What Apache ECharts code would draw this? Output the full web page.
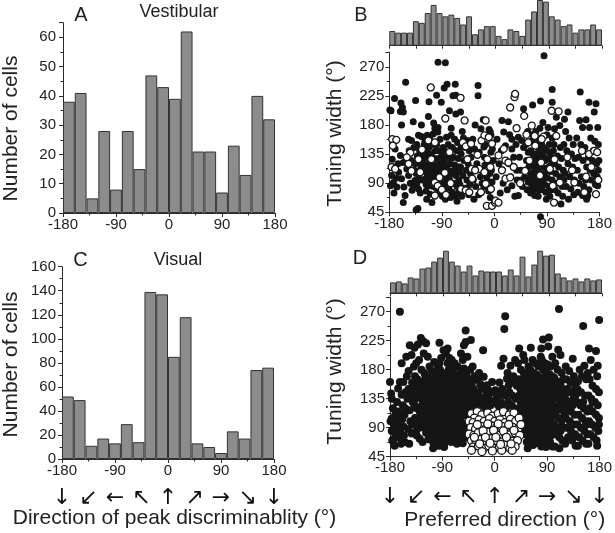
<!DOCTYPE html>
<html>
<head>
<meta charset="utf-8">
<script src="https://cdn.jsdelivr.net/npm/echarts@6.0.0/dist/echarts.min.js"></script>
<style>
html,body{margin:0;padding:0;background:#fff;}
#chart{width:615px;height:533px;}
</style>
</head>
<body>
<div id="chart"></div>
<script>
// ---------- data ----------
const binsA = [-170,-150,-130,-110,-90,-70,-50,-30,-10,10,30,50,70,90,110,130,150,170];
const vestibularCounts = [38,41,5,28,8,28,15,47,43,39,62,21,21,7,23,13,40,32];
const visualCounts = [52,49,11,17,13,29,14,139,137,85,118,13,10,5,23,17,74,76];

const bins36 = [-175,-165,-155,-145,-135,-125,-115,-105,-95,-85,-75,-65,-55,-45,-35,-25,-15,-5,5,15,25,35,45,55,65,75,85,95,105,115,125,135,145,155,165,175];
const prefHistB = [9,8,8,8,15,14,20,25,20,18,19,17,13,18,7,10,12,12,6,4,10,9,6,16,21,28,27,18,16,12,13,8,10,10,13,10];
const prefHistD = [11,12,10,16,15,25,26,32,36,43,32,28,22,28,18,23,22,22,22,18,24,18,37,17,29,43,38,39,20,16,13,15,12,15,13,14];

const arrowTicks = [-180,-135,-90,-45,0,45,90,135,180];
const arrowLabels = ['\u2193','\u2199','\u2190','\u2196','\u2191','\u2197','\u2192','\u2198','\u2193'];

// Panel B: preferred direction vs tuning width (filled / open)
const vestFilled = [
[-177,202],[-171,221],[-178,86],[-176,102],[-173,91],[-175,127],[-173,115],[-170,143],[-167,84],[-164,107],[-161,201],[-160,214],[-172,75],[-165,120],[-168,98],[-179,203],
[-157.5,207],[-156,200],[-159,180],[-152,246],[-156,122],[-161,133],[-159,97],[-153,71],[-156,60],[-147,102],[-147,158],[-142,156],[-142,125],[-144,90],[-150,112],[-155,84],[-146,140],[-141,79],
[-139,185],[-135,218],[-136,120],[-136,94],[-139,86],[-133,89],[-130,81],[-131,51],[-134,49],[-130,164],[-125,162],[-125,180],[-128,140],[-133,150],[-122,135],[-126,118],[-121,108],[-134,105],[-129,97],[-124,95],[-138,145],[-127,75],[-120,150],[-132,132],[-123,125],[-137,110],[-128,110],
[-113,193],[-112,216],[-115,164],[-105,166],[-102,175],[-119,155],[-117,140],[-114,130],[-111,122],[-118,118],[-108,115],[-116,108],[-106,104],[-112,100],[-119,96],[-103,97],[-109,92],[-114,86],[-105,85],[-117,78],[-110,73],[-101,110],[-104,120],[-108,135],[-101,140],[-119,130],[-112,145],[-106,150],[-103,128],[-115,100],[-110,108],[-107,126],[-102,102],[-117,88],[-100,90],[-111,160],[-104,183],[-116,65],[-107,60],[-119,112],
[-96.5,277],[-84,276],[-86,237],[-81,243],[-99,226],[-91,215],[-96.5,176],[-97,169],[-82,161],[-99,150],[-95,140],[-90,132],[-86,125],[-93,120],[-98,115],[-88,112],[-83,118],[-95,105],[-90,100],[-85,95],[-97,95],[-92,88],[-87,84],[-81,90],[-99,82],[-94,75],[-89,70],[-84,65],[-91,110],[-96,128],[-88,145],[-80,130],[-93,158],[-85,105],[-98,102],[-82,102],[-92,125],[-86,140],
[-67,243],[-71,225],[-66,226],[-77,202],[-66,197],[-74,175],[-74,164],[-68,158],[-63,153],[-79,150],[-72,145],[-65,140],[-78,135],[-70,130],[-62,128],[-76,120],[-68,118],[-61,115],[-79,110],[-73,105],[-66,102],[-61,95],[-77,96],[-70,90],[-64,85],[-78,82],[-72,76],[-67,70],[-75,68],[-62,75],[-69,110],[-74,128],[-60,108],[-64,62],
[-58,200],[-46,156],[-37,158],[-55,170],[-50,145],[-57,135],[-43,140],[-52,125],[-45,120],[-58,115],[-41,105],[-54,102],[-47,95],[-59,88],[-50,82],[-44,72],[-56,70],[-42,88],[-48,110],[-53,160],[-40,130],[-57,145],
[-28,241],[-28,225],[-33,180],[-23,174],[-34,143],[-26,138],[-30,120],[-24,100],[-36,95],[-32,85],[-27,72],[-22,110],[-35,65],[-21,90],
[-19,188],[-9,173],[-6,164],[-18,146],[-6,138],[-3.5,143],[-15,150],[-11,120],[-16,118],[-8,105],[-13,98],[-4,92],[-18,85],[-10,78],[-2,125],[-7,68],[-17,130],[-5,110],
[13,187],[4.5,158],[-7,169],[16,169],[12,140],[8,120],[3,100],[15,90],[10,75],
[30,158],[19,148],[30,143],[30,86],[35,70],[25,120],[38,110],[28,100],[22,80],[37,150],[33,130],[26,165],[39,95],[24,185],
[41,161],[47,156],[50,205],[50,145],[58,138],[41,71],[55,125],[45,110],[52,100],[58,92],[48,85],[56,80],[43,130],[59,115],[54,150],[46,95],[57,170],
[65.5,211],[79,217],[78,175],[64,86],[69,71],[61,120],[63,105],[66,135],[68,95],[70,115],[72,128],[74,145],[76,100],[78,88],[62,140],[64,155],[67,80],[71,92],[73,110],[75,122],[77,135],[79,105],[72,150],[74,160],[66,100],[70,135],[78,118],[60,98],[68,125],[76,80],[62,75],[79,145],[71,170],[65,165],[77,95],[73,85],[69,108],[75,70],[79,38],
[85,287],[99,235],[99,215],[83,184],[92,176],[81,150],[88,140],[95,138],[85,130],[92,128],[98,120],[82,115],[89,112],[96,108],[84,100],[91,98],[99,95],[86,88],[93,85],[81,80],[88,76],[97,80],[80,135],[87,125],[94,150],[99,160],[90,165],[84,145],[93,115],[86,105],[98,130],[82,95],[95,70],[89,65],[90,140],[81,125],
[103,174],[112,179],[106,192],[120,189],[114,58],[103,60],[101,140],[108,132],[115,128],[103,120],[110,115],[118,110],[105,105],[112,100],[119,95],[107,90],[116,85],[102,150],[113,145],[119,150],[109,75],[117,70],[104,80],
[126,200],[131,81],[122,170],[128,160],[135,150],[124,140],[132,135],[138,128],[126,120],[134,115],[121,105],[129,100],[137,95],[123,85],[136,72],[127,65],
[147,231],[146,187],[151,176],[157,188],[143,76],[151,71],[141,160],[148,150],[155,145],[144,130],[152,125],[158,115],[142,110],[149,100],[156,95],[145,90],[153,85],[159,70],[158,65],
[162,215],[174,213],[171,200],[163,176],[177,176],[160,71],[177,86],[165,160],[172,155],[178,150],[161,130],[168,125],[175,120],[164,110],[170,105],[176,100],[166,95],[173,88],[162,80],[178,110],[169,140],[179,125]
];
const vestOpen = [
[-175,158],[-168,157],[-174,148],[-176,115],[-170,112],
[-144,137],[-150,130],[-147,120],[-142,109],
[-130,127],[-127,107],[-124,142],
[-109,238],[-113,156],[-108,127],[-102,91],[-102,71],[-102,153],
[-84,190],[-94,99],[-85,106],[-97,86],[-90,80],[-83,72],
[-77,138],[-58,222],[-57,81],[-75,90],
[-51,187],[-54,153],[-49,147],[-40,151],[-46,127],[-39,112],[-38,97],[-49,79],[-43,76],
[-22,156],[-29,134],[-26,112],[-23,76],[-33,110],
[-15,187],[-17,164],[-12,127],[-15,89],[-13,55],[-6,81],[-17,107],[-7,115],[-9.6,161],[-4,151],[-4,55],[1,60],
[7,133],[16,143],[19,97],[2,63],[7,60],[19,125],[13,110],
[34.4,223],[35.5,228],[27,207],[38,175],[24,122],[27,99],[33,115],
[51,194],[55,165],[58,153],[52.5,109],[44,90],
[64,179],[69,163],[78,102],[60,125],[70,148],
[84,162],[80,122],[81,158],[98,202],[100,86],[95,112],
[103,127],[110,201],[112,91],[102,60],[106,163],
[137,91],[125,130],[133,110],
[154,76],[150,140],[157,100],
[162,135],[171,140],[176,138],[174,73],[178,95],[166,115]
];

// Panel D
const visFilled = [
[-180,161],[-178,143],[-179,100],[-177,85],[-176,70],[-175,120],[-173,95],[-172,62],[-171,110],[-170,80],[-168,130],[-166,151],[-165,92],[-164,75],[-163,270],[-163,161],[-162,105],[-161,65],[-160,141],[-168,100],[-174,88],[-166,115],[-162,82],[-177,104],[-177,135],[-173,73],
[-160,190],[-157,161],[-155,68],[-157,92],[-155,110],[-152,200],[-146,218],[-143,203],[-146,117],[-143,81],[-158,125],[-150,135],[-148,150],[-145,100],[-153,145],[-141,130],[-149,88],[-156,78],[-142,160],[-151,170],[-144,140],[-147,65],[-159,103],[-141,95],[-154,120],[-148,178],
[-138,214],[-132,219],[-127,229],[-123,224],[-122,205],[-139,185],[-135,190],[-130,195],[-126,180],[-121,175],[-137,170],[-133,165],[-128,160],[-124,155],[-139,150],[-135,145],[-130,140],[-125,135],[-121,130],[-138,125],[-134,120],[-129,115],[-123,110],[-137,105],[-132,100],[-127,95],[-122,90],[-139,82],[-134,78],[-129,73],[-124,68],[-120,120],[-136,135],[-131,155],[-126,148],[-122,162],[-128,105],[-133,88],[-120,100],[-125,125],
[-118,221],[-115,200],[-104,192],[-112,185],[-108,178],[-101,175],[-119,170],[-114,168],[-110,162],[-105,160],[-102,155],[-117,155],[-113,150],[-108,148],[-103,145],[-119,142],[-115,138],[-110,135],[-106,132],[-101,130],[-118,128],[-113,125],[-109,122],[-104,120],[-100,118],[-117,115],[-112,112],[-107,110],[-102,108],[-119,105],[-115,102],[-110,100],[-105,98],[-101,95],[-116,92],[-111,90],[-106,88],[-102,85],[-118,82],[-113,80],[-108,78],[-104,75],[-106,68],[-106,58],[-114,72],[-109,140],[-103,168],[-116,130],[-111,145],[-107,115],[-100,105],[-117,162],[-112,95],[-105,140],[-119,95],[-101,140],[-108,125],[-114,108],
[-98,187],[-81,213],[-84,205],[-95,222],[-88,210],[-92,198],[-99,178],[-94,180],[-89,175],[-85,170],[-81,190],[-97,168],[-92,165],[-87,160],[-83,158],[-99,160],[-95,155],[-90,152],[-86,150],[-82,147],[-98,145],[-93,142],[-89,140],[-84,138],[-80,135],[-97,135],[-92,132],[-87,130],[-83,128],[-99,125],[-95,122],[-90,120],[-86,118],[-81,116],[-97,112],[-93,110],[-88,108],[-84,105],[-80,102],[-99,100],[-95,98],[-91,96],[-86,94],[-82,92],[-97,88],[-92,85],[-88,82],[-84,80],[-99,75],[-94,72],[-89,70],[-85,68],[-82,75],[-96,62],[-87,60],[-91,105],[-85,125],[-93,148],[-88,145],[-96,140],[-82,140],[-90,130],[-94,115],[-83,112],[-98,108],[-89,90],[-85,100],[-92,158],[-87,173],[-95,190],[-80,165],[-97,120],[-84,155],[-91,140],[-86,135],[-81,125],[-93,125],[-88,118],
[-78,198],[-74,195],[-69,190],[-64,185],[-79,180],[-75,176],[-70,172],[-66,168],[-61,165],[-78,162],[-73,158],[-68,155],[-64,150],[-60,148],[-77,147],[-72,143],[-67,140],[-63,137],[-79,135],[-74,132],[-70,128],[-65,126],[-61,123],[-77,120],[-73,117],[-68,115],[-64,112],[-60,110],[-79,108],[-75,105],[-70,102],[-66,100],[-62,97],[-78,95],[-73,92],[-69,88],[-65,86],[-61,84],[-77,82],[-72,79],[-70,71],[-67,75],[-63,72],[-75,68],[-65,65],[-78,125],[-71,150],[-62,158],[-76,112],[-68,130],[-73,100],[-66,145],[-60,100],[-79,155],[-74,172],[-67,160],[-71,182],[-63,92],[-76,140],[-69,120],
[-53,218],[-50,223],[-41,226],[-50,241],[-53,182],[-58,205],[-55,195],[-47,200],[-42,180],[-59,175],[-54,170],[-49,172],[-44,165],[-57,160],[-52,155],[-47,150],[-42,148],[-58,145],[-53,140],[-48,138],[-43,135],[-59,130],[-55,125],[-50,122],[-45,120],[-41,125],[-57,115],[-52,112],[-47,108],[-43,105],[-59,100],[-55,96],[-50,92],[-45,90],[-58,85],[-53,80],[-48,75],[-55,66],[-59,72],[-51,130],[-46,142],[-56,108],[-44,155],[-49,160],[-41,140],[-54,88],[-57,138],
[-38,185],[-35,170],[-30,165],[-25,158],[-22,150],[-39,160],[-36,150],[-32,145],[-28,140],[-24,135],[-39,140],[-34,132],[-29,128],[-38,125],[-33,120],[-37,110],[-40,100],[-39,90],[-27,175],[-21,125],
[-20,210],[-19,169],[-13,156],[-4.5,161],[-7.4,125],[-15,140],[-10,135],[-18,130],[-5,145],[-12,150],[-2,130],[-16,120],
[18,263],[16.4,243],[1,148],[7,141],[5.6,125],[15,125],[11,186],[15,197],[21,166],[8,160],[13,150],[18,140],[3,135],[10,130],[19,120],
[24,156],[27,186],[35,195],[22,175],[28,165],[33,160],[38,155],[25,145],[30,140],[36,135],[23,130],[29,125],[34,120],[39,118],[37,105],[39,92],[38,80],[32,170],[26,125],
[42,213],[49,203],[40,190],[45,180],[50,175],[55,170],[58,185],[41,165],[47,160],[53,158],[59,155],[44,150],[50,147],[56,144],[42,140],[48,137],[54,133],[59,130],[45,128],[51,125],[57,122],[43,118],[49,115],[55,112],[46,108],[52,105],[58,102],[48,97],[54,94],[50,88],[57,85],[53,80],[59,75],[56.6,58],[55,68],[52,142],[47,120],[58,110],[44,135],[60,165],[51,195],[48,165],
[62,214],[66,63],[80,61],[79,200],[65,195],[70,190],[75,185],[61,180],[67,175],[72,172],[77,168],[63,165],[68,162],[74,158],[79,155],[61,152],[66,150],[71,148],[76,145],[62,142],[67,140],[72,138],[78,135],[60,132],[65,130],[70,128],[75,126],[79,124],[62,122],[67,120],[72,118],[77,116],[61,112],[66,110],[71,108],[76,106],[63,102],[68,100],[73,98],[78,96],[64,92],[69,90],[74,88],[79,86],[65,80],[71,78],[76,75],[61,72],[67,70],[73,68],[78,65],[68,145],[73,132],[64,125],[77,112],[70,95],[75,150],[66,160],[79,140],[63,85],
[83,227],[93,230],[92,216],[80,213],[81,195],[86,190],[91,188],[96,185],[99,200],[83,180],[88,176],[94,173],[98,170],[81,168],[86,165],[91,162],[96,160],[83,155],[88,152],[93,150],[98,148],[81,145],[86,142],[91,140],[96,138],[83,135],[88,132],[93,130],[98,128],[81,125],[86,122],[91,120],[96,118],[83,115],[88,112],[93,110],[98,108],[81,105],[86,102],[91,100],[96,98],[84,95],[89,92],[94,90],[99,88],[82,85],[87,82],[92,80],[97,78],[85,72],[90,70],[95,68],[99,61],[88,60],[83,65],[95,125],[90,145],[85,135],[97,140],[89,125],[94,155],[82,140],[87,170],[92,135],[98,115],[84,105],[90,108],[96,103],[80,120],[86,130],
[110.4,274],[109,211],[113,203],[103,61],[111,58],[104,190],[108,180],[115,175],[102,168],[107,162],[113,158],[118,165],[101,152],[106,148],[112,145],[117,150],[103,138],[109,135],[114,130],[119,140],[101,125],[106,122],[112,118],[117,125],[104,110],[109,105],[115,100],[120,110],[102,95],[108,90],[113,85],[118,90],[105,80],[111,75],[116,70],[103,140],
[134,197],[122,185],[128,178],[136,170],[123,165],[130,160],[138,155],[125,150],[132,145],[139,140],[121,135],[127,130],[134,125],[124,120],[131,115],[137,110],[122,105],[129,100],[136,95],[124,90],[131,85],[138,80],[126,75],[133,70],[121,65],[139,62],[128,145],[135,135],
[152,248],[143,162],[154,186],[160,175],[146,180],[150,170],[157,165],[142,150],[148,145],[155,140],[141,130],[147,125],[153,120],[159,115],[144,110],[150,105],[156,100],[142,95],[148,90],[154,85],[159,80],[145,75],[151,70],[157,65],[143,62],[152,130],[158,95],
[179.4,257],[162,213],[174,209],[177,186],[165,195],[170,180],[176,170],[163,165],[168,155],[174,150],[179,145],[161,140],[166,135],[172,130],[177,125],[163,120],[168,115],[174,110],[179,105],[162,100],[167,95],[173,90],[178,85],[164,80],[170,75],[175,70],[161,65],[176,62],[168,130],[179,95]
];
const visOpen = [
[-40,112],[-30,115],[-22,110],[-12,113],[-4,108],[6,112],[15,115],[25,110],[33,113],[-35,105],
[-44,100],[-37,98],[-27,102],[-18,100],[-9,104],[0,100],[9,102],[18,98],[27,103],[36,100],[42,105],
[-41,90],[-33,88],[-24,92],[-15,89],[-6,93],[3,90],[12,92],[21,88],[30,91],[40,88],[45,95],
[-44,80],[-36,78],[-28,82],[-19,79],[-10,83],[-1,80],[8,78],[17,82],[26,79],[35,82],[43,78],
[-40,70],[-32,68],[-23,72],[-14,69],[-5,73],[4,70],[13,68],[22,72],[31,69],[39,70],
[-37,60],[-28,62],[-19,58],[-10,62],[-1,58],[8,60],[17,63],[26,58],[35,61],
[-40,55],[-22,53],[-4,54],[12,55],[30,55],
[-30,95],[-12,96],[6,96],[24,95],[-20,85],[-2,86],[15,85],[33,86],[-35,75],[-16,75],[2,75],[20,75],[-26,65],[-8,66],[10,64],[28,65]
];

// ---------- chart ----------
const FONT = 'Liberation Sans, Arial, sans-serif';
const INK = '#222';
const AX = '#2b2b2b';
const BAR = '#8c8c8c';

const chart = echarts.init(document.getElementById('chart'), null, {renderer: 'canvas'});

function catAxis(grid, data) {
  return {type: 'category', gridIndex: grid, data: data, show: false, boundaryGap: true};
}
function valX(grid, opts) {
  return Object.assign({
    type: 'value', gridIndex: grid, position: 'bottom', min: -180, max: 180, interval: 90,
    axisLine: {show: true, onZero: false, lineStyle: {color: AX, width: 1}},
    axisTick: {show: true, length: 4, lineStyle: {color: AX}},
    minorTick: {show: true, splitNumber: 2, length: 2.5, lineStyle: {color: AX}},
    splitLine: {show: false},
    axisLabel: {show: true, margin: 4, fontSize: 15, color: INK, fontFamily: FONT}
  }, opts || {});
}
function valY(grid, min, max, interval, opts) {
  return Object.assign({
    type: 'value', gridIndex: grid, min: min, max: max, interval: interval,
    axisLine: {show: true, onZero: false, lineStyle: {color: AX, width: 1}},
    axisTick: {show: true, length: 4, lineStyle: {color: AX}},
    minorTick: {show: true, splitNumber: 2, length: 2.5, lineStyle: {color: AX}},
    splitLine: {show: false},
    axisLabel: {show: true, margin: 6, fontSize: 15, color: INK, fontFamily: FONT}
  }, opts || {});
}
function arrowAxis(grid, margin) {
  return {
    type: 'value', gridIndex: grid, position: 'bottom', min: -180, max: 180, interval: 45,
    axisLine: {show: false}, axisTick: {show: false}, splitLine: {show: false},
    axisLabel: {show: true, margin: margin, fontSize: 22, color: '#111', fontFamily: 'DejaVu Sans',
      formatter: function (v) { const i = arrowTicks.indexOf(v); return i >= 0 ? arrowLabels[i] : ''; }}
  };
}
function histBaseX(grid) {
  return {
    type: 'value', gridIndex: grid, position: 'bottom', min: -180, max: 180, interval: 45,
    axisLine: {show: true, onZero: false, lineStyle: {color: AX, width: 1}},
    axisTick: {show: true, length: 3, lineStyle: {color: AX}},
    axisLabel: {show: false}, splitLine: {show: false}
  };
}
const barStyle = {color: BAR, borderColor: '#333', borderWidth: 1};
function label(x, y, text, size, rot) {
  return {type: 'text', x: x, y: y, z: 100, rotation: rot || 0,
    style: {text: text, fontSize: size, fontFamily: FONT, fill: INK, textAlign: 'center', textVerticalAlign: 'middle'}};
}

const option = {
  animation: false,
  backgroundColor: '#fff',
  grid: [
    {left: 63, right: 340, top: 22.7, bottom: 320},         // A
    {left: 389.3, right: 13, top: 0, height: 45.7},         // B hist
    {left: 389.3, right: 13, top: 52.2, height: 160.1},     // B scatter
    {left: 62, right: 341, top: 266.7, height: 192.3},      // C
    {left: 390, right: 13, top: 250.7, height: 42.6},       // D hist
    {left: 390, right: 13, top: 297.2, height: 159.5}       // D scatter
  ],
  xAxis: [
    catAxis(0, binsA),
    valX(0),
    catAxis(1, bins36),
    histBaseX(1),
    valX(2),
    catAxis(3, binsA),
    valX(3),
    arrowAxis(3, 28),
    catAxis(4, bins36),
    histBaseX(4),
    valX(5),
    arrowAxis(5, 30)
  ],
  yAxis: [
    valY(0, 0, 65, 10, {axisLabel: {margin: 7, fontSize: 15, color: INK, fontFamily: FONT, showMaxLabel: false}}),
    {type: 'value', gridIndex: 1, min: 0, max: 28, show: false},
    valY(2, 45, 292.5, 45, {axisLabel: {margin: 5, fontSize: 15, color: INK, fontFamily: FONT, showMaxLabel: false}}),
    valY(3, 0, 160, 20, {axisLabel: {margin: 6, fontSize: 15, color: INK, fontFamily: FONT}}),
    {type: 'value', gridIndex: 4, min: 0, max: 43, show: false},
    valY(5, 45, 292.5, 45, {axisLabel: {margin: 5, fontSize: 15, color: INK, fontFamily: FONT, showMaxLabel: false}})
  ],
  series: [
    {type: 'bar', xAxisIndex: 0, yAxisIndex: 0, data: vestibularCounts, barCategoryGap: '0%', itemStyle: barStyle},
    {type: 'bar', xAxisIndex: 2, yAxisIndex: 1, data: prefHistB, barCategoryGap: '0%', itemStyle: barStyle},
    {type: 'scatter', xAxisIndex: 4, yAxisIndex: 2, data: vestFilled, clip: false, symbolSize: 7,
      itemStyle: {color: '#151515', opacity: 1}},
    {type: 'scatter', xAxisIndex: 4, yAxisIndex: 2, data: vestOpen, clip: false, symbolSize: 7,
      itemStyle: {color: '#fff', borderColor: '#151515', borderWidth: 1.3, opacity: 1}},
    {type: 'bar', xAxisIndex: 5, yAxisIndex: 3, data: visualCounts, barCategoryGap: '0%', itemStyle: barStyle},
    {type: 'bar', xAxisIndex: 8, yAxisIndex: 4, data: prefHistD, barCategoryGap: '0%', itemStyle: barStyle},
    {type: 'scatter', xAxisIndex: 10, yAxisIndex: 5, data: visFilled, clip: false, symbolSize: 8,
      itemStyle: {color: '#151515', opacity: 1}},
    {type: 'scatter', xAxisIndex: 10, yAxisIndex: 5, data: visOpen, clip: false, symbolSize: 8,
      itemStyle: {color: '#fff', borderColor: '#151515', borderWidth: 1.3, opacity: 1}}
  ],
  graphic: [
    label(81, 15, 'A', 20),
    label(179, 12, 'Vestibular', 18),
    label(361, 15, 'B', 20),
    label(80.5, 260, 'C', 20),
    label(178, 260, 'Visual', 18),
    label(360, 258.5, 'D', 20),
    label(11, 128.5, 'Number of cells', 21, Math.PI / 2),
    label(11, 364.5, 'Number of cells', 21, Math.PI / 2),
    label(335, 133.5, 'Tuning width (\u00B0)', 21, Math.PI / 2),
    label(335, 371.5, 'Tuning width (\u00B0)', 21, Math.PI / 2),
    label(174.5, 518, 'Direction of peak discriminablity (\u00B0)', 21),
    label(504.7, 520, 'Preferred direction (\u00B0)', 21)
  ]
};
chart.setOption(option);
</script>
</body>
</html>
